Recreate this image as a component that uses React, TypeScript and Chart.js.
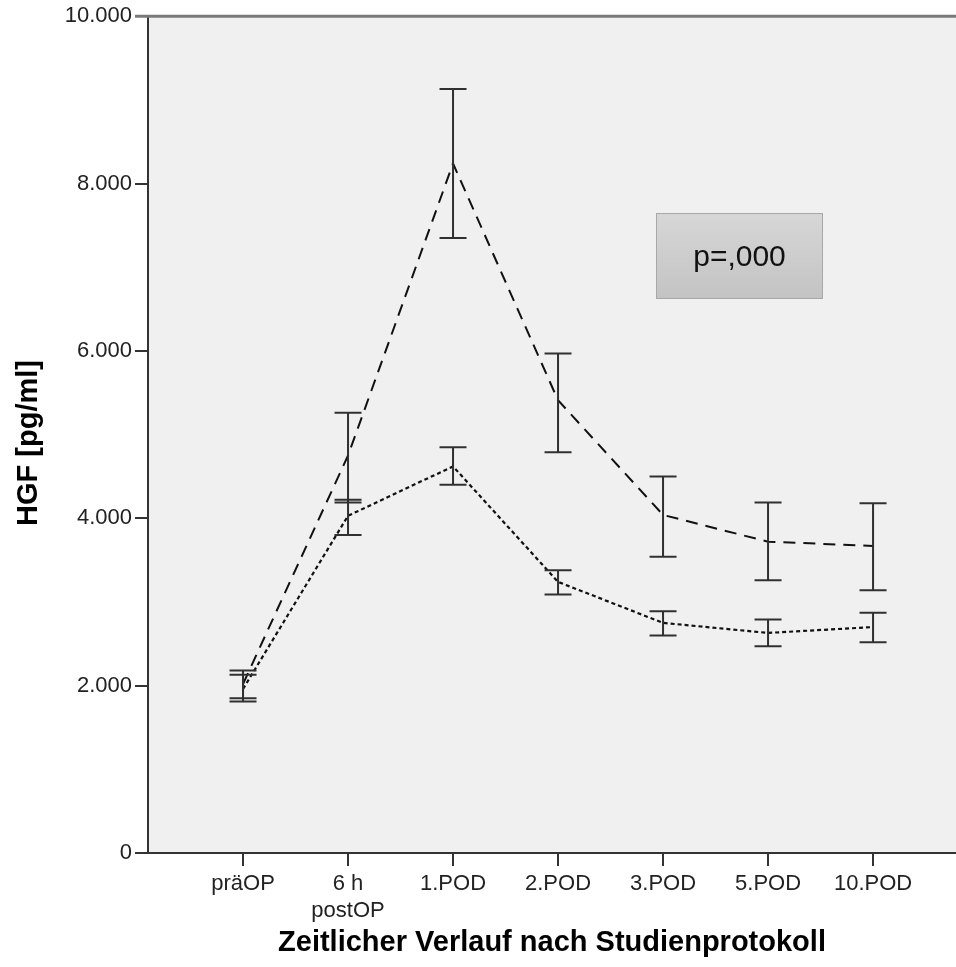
import React, { useEffect, useRef } from "react";
import { Chart, registerables } from "chart.js";

Chart.register(...registerables);

const categories: (string | string[])[] = ["präOP", ["6 h", "postOP"], "1.POD", "2.POD", "3.POD", "5.POD", "10.POD"];

const dashedMean = [2020, 4750, 8240, 5410, 4040, 3720, 3670];
const dashedLower = [1850, 4190, 7350, 4790, 3540, 3260, 3140];
const dashedUpper = [2180, 5260, 9130, 5970, 4500, 4190, 4180];

const dottedMean = [1960, 4030, 4620, 3240, 2750, 2630, 2700];
const dottedLower = [1810, 3800, 4400, 3090, 2600, 2470, 2520];
const dottedUpper = [2130, 4220, 4850, 3380, 2890, 2790, 2870];

const yTicks = [0, 2000, 4000, 6000, 8000, 10000];
const yTickLabels = ["0", "2.000", "4.000", "6.000", "8.000", "10.000"];

const yTitle = "HGF [pg/ml]";
const xTitle = "Zeitlicher Verlauf nach Studienprotokoll";
const annotationText = "p=,000";

const FONT = "'Liberation Sans', Arial, sans-serif";

const customPlugin = {
  id: "custom",
  beforeDraw(chart: any) {
    const { ctx, chartArea } = chart;
    ctx.save();
    ctx.fillStyle = "#f0f0f0";
    ctx.fillRect(chartArea.left, chartArea.top, chartArea.right - chartArea.left, chartArea.bottom - chartArea.top);
    ctx.restore();
  },
  afterDatasetsDraw(chart: any) {
    const { ctx, chartArea, scales } = chart;
    const xs = scales.x;
    const ys = scales.y;
    ctx.save();
    const drawBars = (lo: number[], hi: number[]) => {
      ctx.strokeStyle = "#303030";
      ctx.lineWidth = 2;
      ctx.setLineDash([]);
      lo.forEach((l, i) => {
        const x = xs.getPixelForValue(i);
        const y1 = ys.getPixelForValue(l);
        const y2 = ys.getPixelForValue(hi[i]);
        ctx.beginPath();
        ctx.moveTo(x, y1);
        ctx.lineTo(x, y2);
        ctx.moveTo(x - 13.5, y1);
        ctx.lineTo(x + 13.5, y1);
        ctx.moveTo(x - 13.5, y2);
        ctx.lineTo(x + 13.5, y2);
        ctx.stroke();
      });
    };
    drawBars(dashedLower, dashedUpper);
    drawBars(dottedLower, dottedUpper);

    const bx = 656, by = 213, bw = 167, bh = 86;
    const g = ctx.createLinearGradient(0, by, 0, by + bh);
    g.addColorStop(0, "#d7d7d7");
    g.addColorStop(1, "#c3c3c3");
    ctx.fillStyle = g;
    ctx.fillRect(bx, by, bw, bh);
    ctx.strokeStyle = "#a8a8a8";
    ctx.lineWidth = 1;
    ctx.strokeRect(bx + 0.5, by + 0.5, bw - 1, bh - 1);
    ctx.fillStyle = "#111";
    ctx.font = `30px ${FONT}`;
    ctx.textAlign = "center";
    ctx.textBaseline = "middle";
    ctx.fillText(annotationText, bx + bw / 2, by + bh / 2 + 2);

    ctx.strokeStyle = "#7a7a7a";
    ctx.lineWidth = 3;
    ctx.beginPath();
    ctx.moveTo(135, chartArea.top);
    ctx.lineTo(chartArea.right, chartArea.top);
    ctx.stroke();

    ctx.fillStyle = "#000";
    ctx.font = `bold 29px ${FONT}`;
    ctx.textAlign = "center";
    ctx.textBaseline = "middle";
    ctx.fillText(xTitle, 552, 943);
    ctx.translate(29, 443);
    ctx.rotate(-Math.PI / 2);
    ctx.fillText(yTitle, 0, 0);
    ctx.restore();
  },
};

export default function App() {
  const ref = useRef<HTMLCanvasElement>(null);
  useEffect(() => {
    document.body.style.margin = "0";
    const canvas = ref.current!;
    const chart = new Chart(canvas, {
      type: "line",
      data: {
        datasets: [
          {
            label: "A",
            data: dashedMean.map((v, i) => ({ x: i, y: v })),
            borderColor: "#111",
            borderWidth: 2,
            borderDash: [12, 8],
            pointRadius: 0,
            fill: false,
            tension: 0,
          },
          {
            label: "B",
            data: dottedMean.map((v, i) => ({ x: i, y: v })),
            borderColor: "#111",
            borderWidth: 2.2,
            borderDash: [4, 3],
            pointRadius: 0,
            fill: false,
            tension: 0,
          },
        ],
      },
      options: {
        animation: false,
        responsive: false,
        devicePixelRatio: 1,
        layout: { padding: { top: 16, right: 0, left: 0, bottom: 0 } },
        plugins: { legend: { display: false }, tooltip: { enabled: false } },
        scales: {
          x: {
            type: "linear",
            min: -0.905,
            max: 6.79,
            afterBuildTicks: (scale: any) => {
              scale.ticks = categories.map((_, i) => ({ value: i }));
            },
            afterFit: (scale: any) => {
              scale.height = 114;
            },
            ticks: {
              autoSkip: false,
              maxRotation: 0,
              minRotation: 0,
              padding: 5,
              color: "#222",
              font: { family: FONT, size: 22 },
              callback: (v: any) => categories[v as number] as any,
            },
            grid: { drawOnChartArea: false, tickLength: 13, color: "#333", lineWidth: 2 },
            border: { display: true, color: "#333", width: 2 },
          },
          y: {
            min: 0,
            max: 10000,
            afterBuildTicks: (scale: any) => {
              scale.ticks = yTicks.map((v) => ({ value: v }));
            },
            afterFit: (scale: any) => {
              scale.width = 148;
            },
            ticks: {
              padding: 3,
              color: "#222",
              font: { family: FONT, size: 22 },
              callback: (v: any) => yTickLabels[yTicks.indexOf(v as number)],
            },
            grid: { drawOnChartArea: false, tickLength: 13, color: "#333", lineWidth: 2 },
            border: { display: true, color: "#333", width: 2 },
          },
        },
      },
      plugins: [customPlugin],
    } as any);
    return () => chart.destroy();
  }, []);
  return <canvas ref={ref} width={956} height={967} style={{ display: "block" }} />;
}
